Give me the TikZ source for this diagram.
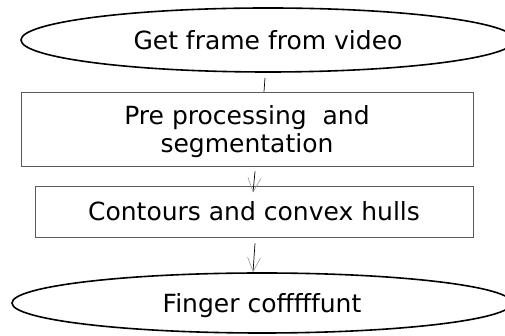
\documentclass[tikz,border=0pt]{standalone}
\usepackage{fontspec}
\setmainfont{DejaVu Sans}
\usepackage{tikz}
\usetikzlibrary{arrows.meta,positioning,calc,shapes.geometric}
\definecolor{BoxGrey}{HTML}{5A5A5A}
\definecolor{TipGrey}{HTML}{9A9A9A}

\begin{document}
\begin{tikzpicture}[x=1pt,y=1pt]
  \tikzset{endpoint/.style={draw=black,ellipse,line width=1.6pt,inner sep=0pt,
    font=\fontsize{25}{28}\selectfont},
    stepbox/.style={draw=BoxGrey,line width=0.9pt,rectangle,inner sep=0pt,
    align=center,font=\fontsize{25}{28}\selectfont},
    flow/.style={-{Straight Barb[length=14pt,width=13pt,color=TipGrey,line width=0.6pt]},
    black,line width=0.7pt}}
  \useasboundingbox (0,0) rectangle (505,336);
  \node[endpoint,minimum width=494,minimum height=64] (frame) at (268,296) {Get frame from video};
  \node[stepbox,minimum width=452,minimum height=74,text depth=0pt] (prep) at (247,207) {Pre processing\ \ and\\segmentation};
  \node[stepbox,minimum width=438,minimum height=51] (hulls) at (254,124.5) {Contours and convex hulls};
  \node[endpoint,minimum width=500,minimum height=60,text depth=0pt] (finger) at (262,33) {Finger cofffffunt};
  \draw[black,line width=0.7pt] ($(frame.south)+(-3,-5)$) -- ($(prep.north)+(17,0)$);
  \draw[flow] ($(prep.south)+(8,-5)$) -- ($(hulls.north)+(-1,-7)$);
  \draw[flow] ($(hulls.south)+(1,-6)$) -- ($(finger.north)+(-9,0)$);
\end{tikzpicture}
\end{document}
